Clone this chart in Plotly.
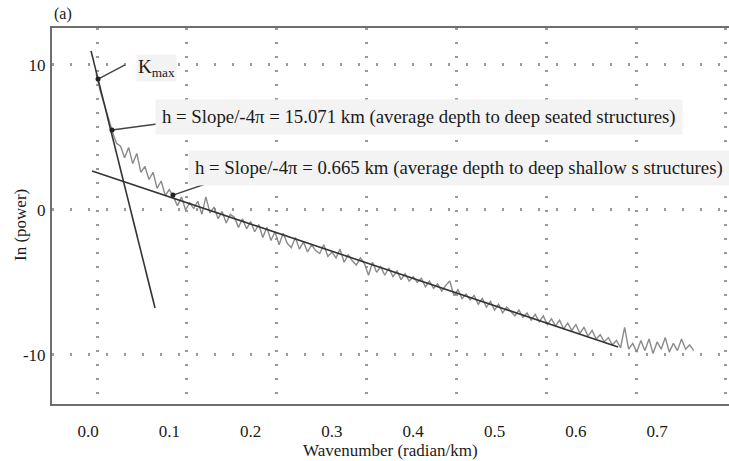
import plotly.graph_objects as go

# ---- data ----
wavenumber = [0.010, 0.015, 0.020, 0.025, 0.030, 0.035, 0.040, 0.045, 0.050, 0.055,
              0.060, 0.065, 0.070, 0.075, 0.080, 0.085, 0.090, 0.095, 0.100, 0.105,
              0.110, 0.115, 0.120, 0.125, 0.130, 0.135, 0.140, 0.145, 0.150, 0.155,
              0.160, 0.165, 0.170, 0.175, 0.180, 0.185, 0.190, 0.195, 0.200, 0.205,
              0.210, 0.215, 0.220, 0.225, 0.230, 0.235, 0.240, 0.245, 0.250, 0.255,
              0.260, 0.265, 0.270, 0.275, 0.280, 0.285, 0.290, 0.295, 0.300, 0.305,
              0.310, 0.315, 0.320, 0.325, 0.330, 0.335, 0.340, 0.345, 0.350, 0.355,
              0.360, 0.365, 0.370, 0.375, 0.380, 0.385, 0.390, 0.395, 0.400, 0.405,
              0.410, 0.415, 0.420, 0.425, 0.430, 0.435, 0.440, 0.445, 0.450, 0.455,
              0.460, 0.465, 0.470, 0.475, 0.480, 0.485, 0.490, 0.495, 0.500, 0.505,
              0.510, 0.515, 0.520, 0.525, 0.530, 0.535, 0.540, 0.545, 0.550, 0.555,
              0.560, 0.565, 0.570, 0.575, 0.580, 0.585, 0.590, 0.595, 0.600, 0.605,
              0.610, 0.615, 0.620, 0.625, 0.630, 0.635, 0.640, 0.645, 0.650, 0.655,
              0.660, 0.665, 0.670, 0.675, 0.680, 0.685, 0.690, 0.695, 0.700, 0.705,
              0.710, 0.715, 0.720, 0.725, 0.730, 0.735, 0.740, 0.745]
ln_power = [9.4, 8.2, 7.3, 6.3, 5.4, 4.6, 4.4, 3.6, 4.3, 3.2,
            3.9, 2.6, 3.0, 2.1, 2.6, 1.5, 2.0, 1.0, 1.4, 0.9,
            0.3, 0.9, 0.0, 0.5, 0.1, 0.6, -0.3, 0.9, -0.2, 0.2,
            -0.6, -0.1, -0.9, -0.3, -0.5, -1.2, -0.6, -1.3, -0.8, -1.5,
            -1.0, -1.9, -1.2, -2.1, -1.5, -2.4, -1.6, -2.3, -2.6, -1.9,
            -2.7, -2.2, -2.9, -2.4, -2.8, -3.0, -2.4, -3.2, -2.9, -3.3,
            -2.7, -3.6, -3.1, -3.5, -3.8, -3.3, -3.7, -4.5, -3.6, -4.3,
            -3.9, -4.5, -4.0, -4.6, -4.2, -4.8, -4.4, -4.9, -4.6, -5.0,
            -4.7, -5.3, -4.9, -5.4, -5.1, -5.6, -5.2, -4.9, -5.9, -5.5,
            -6.1, -5.8, -6.2, -5.9, -6.5, -6.1, -6.7, -6.3, -6.9, -6.5,
            -7.1, -6.7, -7.0, -7.3, -6.9, -7.4, -7.1, -7.6, -7.2, -7.7,
            -7.3, -7.9, -7.5, -8.0, -7.6, -8.2, -7.8, -8.3, -7.9, -8.5,
            -8.1, -8.7, -8.3, -8.9, -8.6, -9.1, -8.8, -9.3, -9.0, -9.5,
            -8.1, -9.6, -9.2, -9.8, -9.0, -9.7, -8.9, -9.9, -9.1, -9.6,
            -8.8, -9.8, -9.2, -9.7, -8.9, -9.6, -9.3, -9.7]

deep_fit_x = [0.0037, 0.0824]
deep_fit_y = [10.97, -6.76]
shallow_fit_x = [0.005, 0.652]
shallow_fit_y = [2.69, -9.45]

# points picked out on the fits and the ends of their pointer lines
marked_x = [0.0123, 0.0295, 0.1045]
marked_y = [9.03, 5.52, 1.03]
pointer_end_x = [0.0455, 0.0849, 0.1587]
pointer_end_y = [10.0, 5.93, 2.07]

x_tick_vals = [0.0, 0.1, 0.2, 0.3, 0.4, 0.5, 0.6, 0.7]
x_tick_text = ["0.0", "0.1", "0.2", "0.3", "0.4", "0.5", "0.6", "0.7"]
y_tick_vals = [10, 0, -10]
y_tick_text = ["10", "0", "-10"]

x_title = "Wavenumber (radian/km)"
y_title = "In (power)"
label_kmax = "K<sub>max</sub>"
label_deep = "h = Slope/-4\u03c0 = 15.071 km (average depth to deep seated structures)"
label_shallow = "h = Slope/-4\u03c0 = 0.665 km (average depth to deep shallow s structures)"

X_RANGE = [-0.0443, 0.7884]
Y_RANGE = [-13.38, 12.55]
FONT = "Liberation Serif, Times New Roman, serif"

fig = go.Figure()

fig.add_trace(go.Scatter(x=wavenumber, y=ln_power, mode="lines",
                         line=dict(color="#8a8a8a", width=1.4),
                         showlegend=False, hoverinfo="skip"))
fig.add_trace(go.Scatter(x=deep_fit_x, y=deep_fit_y, mode="lines",
                         line=dict(color="#333333", width=1.6),
                         showlegend=False, hoverinfo="skip"))
fig.add_trace(go.Scatter(x=shallow_fit_x, y=shallow_fit_y, mode="lines",
                         line=dict(color="#333333", width=1.6),
                         showlegend=False, hoverinfo="skip"))
for mx, my, ex, ey in zip(marked_x, marked_y, pointer_end_x, pointer_end_y):
    fig.add_trace(go.Scatter(x=[mx, ex], y=[my, ey], mode="lines",
                             line=dict(color="#444444", width=1.4),
                             showlegend=False, hoverinfo="skip"))
fig.add_trace(go.Scatter(x=marked_x, y=marked_y, mode="markers",
                         marker=dict(color="#222222", size=5),
                         showlegend=False, hoverinfo="skip"))
# invisible trace on the overlay axis carrying the dotted vertical grid
fig.add_trace(go.Scatter(x=[X_RANGE[0]], y=[0], xaxis="x2", mode="markers",
                         marker=dict(opacity=0), showlegend=False, hoverinfo="skip"))

fig.update_layout(
    width=729, height=461,
    margin=dict(l=52, r=0, t=28, b=57, autoexpand=False),
    paper_bgcolor="white", plot_bgcolor="white",
    font=dict(family=FONT, size=17, color="#1a1a1a"),
    xaxis=dict(range=X_RANGE, tickvals=x_tick_vals, ticktext=x_tick_text,
               showgrid=False, zeroline=False, ticks="", ticklabelstandoff=11,
               automargin=False,
               showline=True, linecolor="#6e6e6e", linewidth=2, mirror=True),
    xaxis2=dict(range=X_RANGE, overlaying="x", tick0=0.0111, dtick=0.1105,
                showgrid=True, gridcolor="#9a9a9a", gridwidth=2.5,
                griddash="2px,12px", showticklabels=False, ticks="",
                zeroline=False, showline=False, automargin=False),
    yaxis=dict(range=Y_RANGE, tickvals=y_tick_vals, ticktext=y_tick_text,
               showgrid=True, gridcolor="#9a9a9a", gridwidth=2.5,
               griddash="2px,16px", zeroline=False, ticks="",
               ticklabelstandoff=1, automargin=False,
               showline=True, linecolor="#6e6e6e", linewidth=2, mirror=False),
)

annotations = [
    dict(text="(a)", xref="paper", yref="paper", x=0.0, y=1.0, xanchor="left",
         yanchor="bottom", yshift=3, showarrow=False, font=dict(size=16)),
    dict(text=y_title, xref="paper", yref="paper", x=-0.0473, y=0.476,
         xanchor="center", yanchor="middle", textangle=-90, showarrow=False,
         font=dict(size=17)),
    dict(text=x_title, xref="paper", yref="paper", x=0.5, y=-0.124,
         xanchor="center", yanchor="middle", showarrow=False,
         font=dict(size=17)),
    dict(text=label_kmax, x=0.0590, y=9.79, xanchor="left", yanchor="middle",
         showarrow=False, bgcolor="#f3f3f3", font=dict(size=19)),
    dict(text=label_deep, x=0.0820, y=6.41, xanchor="left", yanchor="middle",
         showarrow=False, bgcolor="#f3f3f3", borderpad=6, font=dict(size=18.8)),
    dict(text=label_shallow, x=0.1230, y=2.9, xanchor="left", yanchor="middle",
         showarrow=False, bgcolor="#f3f3f3", borderpad=6, font=dict(size=18.8)),
]
fig.update_layout(annotations=annotations)

fig.write_html(
    "out.html",
    config={"displayModeBar": False},
    post_script="document.body.style.margin='0';document.body.style.overflow='hidden';",
)
